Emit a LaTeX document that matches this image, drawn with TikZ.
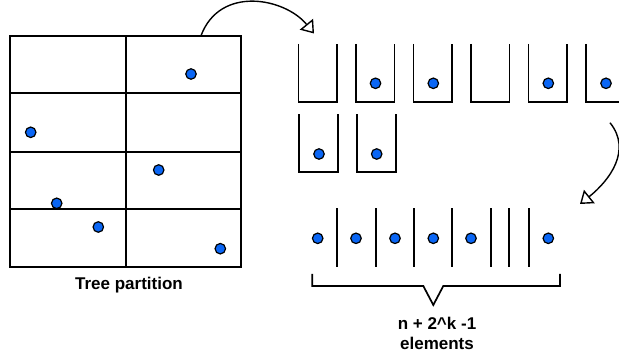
\documentclass[tikz,border=0pt]{standalone}
\usepackage{fontspec}
\setmainfont{Liberation Sans}
\usetikzlibrary{arrows.meta}
\definecolor{dotblue}{RGB}{10,102,245}

\begin{document}
\begin{tikzpicture}[x=1pt, y=-1pt,
	pt/.style={circle, draw=black, fill=dotblue, line width=1.2pt, minimum size=10.5pt, inner sep=0pt},
	wall/.style={line width=1.7pt},
	lbl/.style={font=\bfseries\fontsize{17}{20}\selectfont},
	flow/.style={line width=1.4pt, -{Triangle[open, length=12pt, width=17pt, line width=1.4pt]}}]

	\useasboundingbox (0,0) rectangle (619,358);

	% grid
	\draw[wall] (10,35.7) rectangle (241,266.7);
	\draw[wall] (125.7,35.7) -- (125.7,266.7);
	\draw[wall] (10,93.3) -- (241,93.3);
	\draw[wall] (10,151.7) -- (241,151.7);
	\draw[wall] (10,209) -- (241,209);

	\node[pt] (g1) at (191,74) {};
	\node[pt] (g2) at (30.7,132.3) {};
	\node[pt] (g3) at (158.7,170) {};
	\node[pt] (g4) at (56.7,203.3) {};
	\node[pt] (g5) at (98.3,227) {};
	\node[pt] (g6) at (220.3,248.7) {};
	\node[lbl, anchor=base] (tree) at (129,289.5) {Tree partition};

	% buckets
	\draw[wall] (298.5,44) -- (298.5,101.7) -- (337,101.7) -- (337,44);
	\draw[wall] (356,44) -- (356,101.7) -- (394.5,101.7) -- (394.5,44);
	\draw[wall] (413.5,44) -- (413.5,101.7) -- (452,101.7) -- (452,44);
	\draw[wall] (471,44) -- (471,101.7) -- (509.5,101.7) -- (509.5,44);
	\draw[wall] (528.5,44) -- (528.5,101.7) -- (567,101.7) -- (567,44);
	\draw[wall] (586,44) -- (586,101.7) -- (619,101.7);
	\draw[wall] (299,114.3) -- (299,172.3) -- (337.7,172.3) -- (337.7,114.3);
	\draw[wall] (356.7,114.3) -- (356.7,172.3) -- (396,172.3) -- (396,114.3);

	\node[pt] (b2) at (375.5,83.3) {};
	\node[pt] (b3) at (433.3,83.3) {};
	\node[pt] (b5) at (548.3,83.3) {};
	\node[pt] (b6) at (606,83.3) {};
	\node[pt] (b7) at (319,154) {};
	\node[pt] (b8) at (376.7,154) {};

	% flat array
	\node[pt] (a1) at (317.7,238.3) {};
	\node[pt] (a2) at (356,238.3) {};
	\node[pt] (a3) at (395,238.3) {};
	\node[pt] (a4) at (433.3,238.3) {};
	\node[pt] (a5) at (471,238.3) {};
	\node[pt] (a6) at (548.3,238.3) {};
	\draw[wall] (336.7,208.3) -- (336.7,267.3);
	\draw[wall] (375.7,208.3) -- (375.7,267.3);
	\draw[wall] (414,208.3) -- (414,267.3);
	\draw[wall] (452.3,208.3) -- (452.3,267.3);
	\draw[wall] (490.7,208.3) -- (490.7,267.3);
	\draw[wall] (509.3,208.3) -- (509.3,267.3);
	\draw[wall] (529.3,208.3) -- (529.3,267.3);

	\draw[wall] (312.3,274) -- (312.3,286) -- (423.3,286) -- (433.3,305) -- (443.3,286) -- (560,286) -- (560,274);
	\node[lbl, align=center] (count) at (437,333) {n + 2\^{}k -1\\elements};

	% arrows
	\coordinate (s1) at (201,35.7);
	\coordinate (e1) at (314,33.5);
	\coordinate (s2) at (610,122.7);
	\coordinate (e2) at (580,204);
	\draw[flow] (s1) .. controls (220,-15) and (285,-2) .. (e1);
	\draw[flow] (s2) .. controls (632,150) and (610,180) .. (e2);
\end{tikzpicture}
\end{document}
